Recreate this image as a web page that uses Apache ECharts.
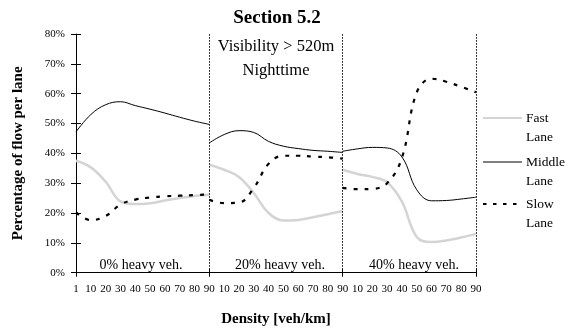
<!DOCTYPE html>
<html>
<head>
<meta charset="utf-8">
<script src="https://cdn.jsdelivr.net/npm/echarts@6/dist/echarts.min.js"></script>
<style>html,body{margin:0;padding:0;background:#fff;}#c{width:573px;height:329px;}</style>
</head>
<body>
<div id="c"></div>
<script>
// Tick labels along the density axis (three panels side by side)
var xTickLabels = ['1','10','20','30','40','50','60','70','80','90',
  '10','20','30','40','50','60','70','80','90',
  '10','20','30','40','50','60','70','80','90'];
var yTicks = [0,10,20,30,40,50,60,70,80];
var panelLabels = ['0% heavy veh.','20% heavy veh.','40% heavy veh.'];
var densities = [1,10,20,30,40,50,60,70,80,90];

// Percentage of flow per lane (%), one array per lane and heavy-vehicle share
var fast0   = [37.5, 35.3, 30.5, 23.9, 23.0, 23.3, 24.2, 25.0, 25.7, 26.1];
var middle0 = [47.2, 53.0, 56.3, 57.3, 56.0, 54.8, 53.5, 52.1, 50.8, 49.7];
var slow0   = [20.2, 17.6, 19.0, 22.8, 24.5, 25.2, 25.6, 25.8, 26.0, 26.3];
var fast20   = [36.2, 34.5, 32.1, 26.7, 20.0, 17.5, 17.7, 18.6, 19.6, 20.7];
var middle20 = [43.5, 46.3, 47.6, 47.0, 44.0, 42.4, 41.6, 41.0, 40.7, 40.3];
var slow20   = [24.4, 23.3, 23.5, 28.4, 36.5, 39.2, 39.2, 38.9, 38.7, 38.2];
var fast40   = [34.5, 33.1, 32.1, 30.3, 23.8, 12.0, 10.3, 10.8, 11.8, 13.0];
var middle40 = [40.7, 41.5, 42.0, 41.8, 38.8, 27.8, 24.1, 24.2, 24.7, 25.3];
var slow40   = [28.4, 28.0, 28.1, 30.0, 38.5, 60.4, 65.0, 64.0, 62.3, 60.5];

var FONT = '"Liberation Serif", "Times New Roman", serif';
var perPanel = densities.length - 1;

function pts(arr, panel) {
  return arr.map(function (v, j) { return [panel * perPanel + j, v]; });
}

var fastStyle = {color: '#d4d4d4', width: 2.5};
var midStyle = {color: '#000', width: 1};
var slowStyle = {color: '#000', width: 2.2, type: [4, 7]};

var lanes = [
  {name: 'Fast Lane', arrs: [fast0, fast20, fast40], style: fastStyle},
  {name: 'Middle Lane', arrs: [middle0, middle20, middle40], style: midStyle},
  {name: 'Slow Lane', arrs: [slow0, slow20, slow40], style: slowStyle}
];

var series = [];
lanes.forEach(function (l) {
  l.arrs.forEach(function (a, p) {
    series.push({
      type: 'line', name: l.name, data: pts(a, p), smooth: 0.4,
      showSymbol: false, symbol: 'none', silent: true,
      lineStyle: l.style, itemStyle: {color: l.style.color}, z: l.name === 'Fast Lane' ? 1 : 3
    });
  });
});
series[0].markLine = {
  silent: true, symbol: 'none', label: {show: false},
  lineStyle: {type: [1.5, 1.5], color: '#000', width: 1},
  data: [{xAxis: perPanel}, {xAxis: perPanel * 2}, {xAxis: perPanel * 3}]
};

var gLeft = 76, gRight = 476, gTop = 34, gBottom = 272.7;

var graphics = [
  {type: 'text', x: 277, y: 18, style: {text: 'Section 5.2', font: 'bold 19px ' + FONT, fill: '#000', align: 'center', verticalAlign: 'middle'}},
  {type: 'text', x: 276, y: 47, style: {text: 'Visibility > 520m', font: '16.5px ' + FONT, fill: '#000', align: 'center', verticalAlign: 'middle'}},
  {type: 'text', x: 276, y: 71, style: {text: 'Nighttime', font: '16.5px ' + FONT, fill: '#000', align: 'center', verticalAlign: 'middle'}},
  {type: 'text', x: 141, y: 265, style: {text: panelLabels[0], font: '14px ' + FONT, fill: '#000', align: 'center', verticalAlign: 'middle'}},
  {type: 'text', x: 280, y: 265, style: {text: panelLabels[1], font: '14px ' + FONT, fill: '#000', align: 'center', verticalAlign: 'middle'}},
  {type: 'text', x: 414, y: 265, style: {text: panelLabels[2], font: '14px ' + FONT, fill: '#000', align: 'center', verticalAlign: 'middle'}}
];
// legend drawn as lines + two-line labels
var legY = [118, 162, 204];
lanes.forEach(function (l, k) {
  var ls = {stroke: l.style.color, lineWidth: k === 0 ? 2 : (k === 1 ? 1 : 2.2)};
  if (k === 2) ls.lineDash = [3.5, 6.5];
  graphics.push({type: 'line', shape: {x1: 483, y1: legY[k], x2: 522, y2: legY[k]}, style: ls});
  var parts = l.name.split(' ');
  graphics.push({type: 'text', x: 526, y: legY[k], style: {text: parts[0], font: '13.5px ' + FONT, fill: '#000', verticalAlign: 'middle'}});
  graphics.push({type: 'text', x: 526, y: legY[k] + 19, style: {text: parts[1], font: '13.5px ' + FONT, fill: '#000', verticalAlign: 'middle'}});
});

var chart = echarts.init(document.getElementById('c'), null, {renderer: 'canvas'});
chart.setOption({
  animation: false,
  backgroundColor: '#fff',
  grid: {left: gLeft, right: 573 - gRight, top: gTop, bottom: 329 - gBottom, containLabel: false, outerBoundsMode: 'none'},
  xAxis: [{
    type: 'value', min: 0, max: xTickLabels.length - 1, interval: 1,
    name: 'Density [veh/km]', nameLocation: 'middle', nameGap: 39,
    nameTextStyle: {fontFamily: FONT, fontWeight: 'bold', fontSize: 15, color: '#000'},
    axisLine: {lineStyle: {color: '#000', width: 1}},
    axisTick: {show: true, length: 4, inside: false, customValues: [0, perPanel, perPanel * 2, perPanel * 3], lineStyle: {color: '#000'}},
    axisLabel: {fontFamily: FONT, fontSize: 11, color: '#000', margin: 11, hideOverlap: false,
      formatter: function (v) { return xTickLabels[v] || ''; }},
    splitLine: {show: false}
  }, {
    type: 'value', min: 0, max: xTickLabels.length - 1, interval: 1, position: 'bottom',
    axisLine: {show: false},
    axisTick: {show: true, length: 4, inside: true, customValues: [0, perPanel, perPanel * 2, perPanel * 3], lineStyle: {color: '#000'}},
    axisLabel: {show: false}, splitLine: {show: false}
  }],
  yAxis: [{
    type: 'value', min: yTicks[0], max: yTicks[yTicks.length - 1], interval: 10,
    name: 'Percentage of flow per lane', nameLocation: 'middle', nameGap: 50,
    nameTextStyle: {fontFamily: FONT, fontWeight: 'bold', fontSize: 15, color: '#000'},
    axisLine: {show: true, lineStyle: {color: '#000', width: 1}},
    axisTick: {show: true, length: 5, lineStyle: {color: '#000'}},
    axisLabel: {fontFamily: FONT, fontSize: 11, color: '#000', margin: 11, formatter: '{value}%'},
    splitLine: {show: false}
  }, {
    type: 'value', min: 0, max: 80, interval: 10, position: 'left',
    axisLine: {show: false},
    axisTick: {show: true, length: 5, inside: true, lineStyle: {color: '#000'}},
    axisLabel: {show: false}, splitLine: {show: false}
  }],
  series: series,
  graphic: graphics
});
</script>
</body>
</html>
